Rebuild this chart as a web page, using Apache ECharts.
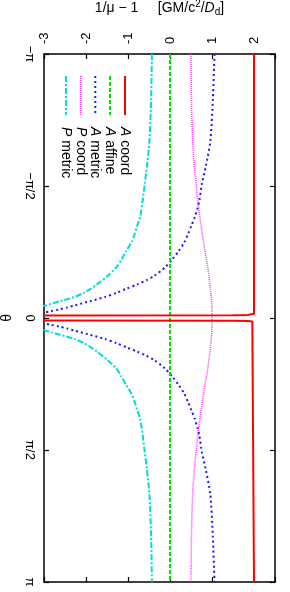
<!DOCTYPE html>
<html><head><meta charset="utf-8">
<script src="https://cdn.jsdelivr.net/npm/echarts@6/dist/echarts.min.js"></script>
<style>html,body{margin:0;padding:0;background:#fff}#c{width:290px;height:592px}</style>
</head><body><div id="c"></div>
<script>
// ---- data ----
const thetaTickLabels = ['−π', '−π/2', '0', 'π/2', 'π'];
const seriesNames = ['A coord', 'A affine', 'A metric', 'P coord', 'P metric'];

const thetaACoord = [-3.1416, -0.05, -0.042, -0.036, -0.032, -0.029, 0, 0.029, 0.032, 0.036, 0.042, 0.05, 3.1416];
const aCoord      = [2, 2, 1.96, 1.85, 1.5, -4, null, -4, 1.5, 1.85, 1.96, 2, 2];

const thetaAAffine = [-3.1416, 3.1416];
const aAffine      = [0, 0];

const thetaAMetric = [-3.1416,-2.6,-2.1,-1.8,-1.6,-1.4,-1.3,-1.2,-1.1,-1.0,-0.9,-0.8,-0.7,-0.6,-0.5,-0.45,-0.4,-0.35,-0.3,-0.25,-0.2,-0.15,-0.125,-0.1,-0.08,-0.065,-0.05,
  0,
  0.05,0.065,0.08,0.1,0.125,0.15,0.2,0.25,0.3,0.35,0.4,0.45,0.5,0.6,0.7,0.8,0.9,1.0,1.1,1.2,1.3,1.4,1.6,1.8,2.1,2.6,3.1416];
const aMetric = [1.06,1.02,0.96,0.85,0.76,0.70,0.65,0.59,0.51,0.43,0.34,0.21,0.06,-0.12,-0.38,-0.56,-0.78,-1.03,-1.27,-1.55,-1.9,-2.27,-2.45,-2.65,-2.85,-3.0,-4.0,
  null,
  -4.0,-3.0,-2.85,-2.65,-2.45,-2.27,-1.9,-1.55,-1.27,-1.03,-0.78,-0.56,-0.38,-0.12,0.06,0.21,0.34,0.43,0.51,0.59,0.65,0.70,0.76,0.85,0.96,1.02,1.06];

const thetaPCoord = [-3.1416,-2.6,-2.1,-1.8,-1.6,-1.4,-1.2,-1.0,-0.8,-0.6,-0.4,-0.2,0,0.2,0.4,0.6,0.8,1.0,1.2,1.4,1.6,1.8,2.1,2.6,3.1416];
const pCoord      = [0.50,0.51,0.54,0.58,0.62,0.66,0.71,0.77,0.83,0.90,0.95,0.99,1.0,0.99,0.95,0.90,0.83,0.77,0.71,0.66,0.62,0.58,0.54,0.51,0.50];

const thetaPMetric = [-3.1416,-2.6,-2.1,-1.8,-1.6,-1.4,-1.2,-1.1,-1.0,-0.9,-0.8,-0.7,-0.6,-0.5,-0.4,-0.35,-0.3,-0.25,-0.2,-0.17,-0.145,-0.13,
  0,
  0.13,0.145,0.17,0.2,0.25,0.3,0.35,0.4,0.5,0.6,0.7,0.8,0.9,1.0,1.1,1.2,1.4,1.6,1.8,2.1,2.6,3.1416];
const pMetric = [-0.43,-0.45,-0.49,-0.55,-0.60,-0.65,-0.71,-0.78,-0.84,-0.92,-1.04,-1.15,-1.28,-1.49,-1.74,-1.88,-2.05,-2.27,-2.62,-2.82,-3.0,-3.3,
  null,
  -3.3,-3.0,-2.82,-2.62,-2.27,-2.05,-1.88,-1.74,-1.49,-1.28,-1.15,-1.04,-0.92,-0.84,-0.78,-0.71,-0.65,-0.60,-0.55,-0.49,-0.45,-0.43];

// ---- chart ----
const FONT = '"Liberation Sans", Arial, Helvetica, sans-serif';
const pair = (vals, th) => vals.map((v, i) => [v, th[i]]);
const colors = ['#ff0000', '#00dd00', '#1a1aff', '#ff40ff', '#00dcdc'];
const dashes = ['solid', [4, 2], [2, 3], [1, 1], [6, 2, 2, 2]];
const widths = [2, 2, 2, 1.6, 2];

const chart = echarts.init(document.getElementById('c'), null, {renderer: 'canvas'});
const axisLineStyle = {color: '#000', width: 1.5};
const tickStyle = {inside: true, length: 5, lineStyle: {color: '#000', width: 1.2}};

const xCommon = {type: 'value', min: -3, max: 2.5, interval: 1, splitLine: {show: false},
  axisLine: {show: true, onZero: false, lineStyle: axisLineStyle}, axisTick: tickStyle};
const yCommon = {type: 'value', min: -Math.PI, max: Math.PI, interval: Math.PI / 2, inverse: true,
  splitLine: {show: false}, axisLine: {show: true, onZero: false, lineStyle: axisLineStyle}, axisTick: tickStyle};

const legendGraphics = [];
const legendX = [125, 110, 95.3, 80.7, 66];
seriesNames.forEach((nm, i) => {
  legendGraphics.push({type: 'line', shape: {x1: legendX[i], y1: 76, x2: legendX[i], y2: 115},
    style: {stroke: colors[i], lineWidth: widths[i], lineDash: dashes[i] === 'solid' ? null : dashes[i]}});
  const parts = nm.split(' ');
  legendGraphics.push({type: 'text', x: legendX[i], y: 127, rotation: -Math.PI / 2,
    style: {text: '{i|' + parts[0] + '} ' + parts[1], fill: '#000', font: '14px ' + FONT,
      align: 'left', verticalAlign: 'middle',
      rich: {i: {fontStyle: 'italic', fontSize: 14, fontFamily: FONT}}}});
});

chart.setOption({
  animation: false,
  backgroundColor: '#fff',
  textStyle: {fontFamily: FONT},
  grid: {left: 44, right: 15, top: 54, bottom: 10, containLabel: false, outerBoundsMode: 'none'},
  xAxis: [
    Object.assign({}, xCommon, {position: 'top',
      axisLabel: {rotate: -90, margin: 10, fontSize: 13, color: '#000', fontFamily: FONT,
        formatter: v => Math.abs(v - Math.round(v)) < 1e-6 ? String(Math.round(v)) : ''},
      name: '{t|1/μ − 1}     {t|[GM/c}{sup|2}{t|/}{it|D}{sub|d}{t|]}',
      nameLocation: 'middle', nameGap: 36,
      nameTextStyle: {color: '#000', fontSize: 14, fontFamily: FONT,
        rich: {t: {fontSize: 14, fontFamily: FONT, color: '#000'},
               it: {fontSize: 14, fontStyle: 'italic', fontFamily: FONT, color: '#000'},
               sup: {fontSize: 10, fontFamily: FONT, color: '#000', padding: [0, 0, 9, 0]},
               sub: {fontSize: 10, fontFamily: FONT, color: '#000', padding: [8, 0, 0, 0]}}}}),
    Object.assign({}, xCommon, {position: 'bottom', axisLabel: {show: false}})
  ],
  yAxis: [
    Object.assign({}, yCommon, {position: 'left',
      axisLabel: {rotate: -90, margin: 8, fontSize: 13, color: '#000', fontFamily: FONT,
        formatter: v => thetaTickLabels[Math.round(v / (Math.PI / 2)) + 2] || ''},
      name: 'θ', nameLocation: 'middle', nameRotate: -90, nameGap: 33,
      nameTextStyle: {color: '#000', fontSize: 14, fontFamily: FONT}}),
    Object.assign({}, yCommon, {position: 'right', axisLabel: {show: false}})
  ],
  graphic: legendGraphics,
  series: [
    {name: seriesNames[0], data: pair(aCoord, thetaACoord)},
    {name: seriesNames[1], data: pair(aAffine, thetaAAffine)},
    {name: seriesNames[2], data: pair(aMetric, thetaAMetric), smooth: 0.25},
    {name: seriesNames[3], data: pair(pCoord, thetaPCoord), smooth: 0.3},
    {name: seriesNames[4], data: pair(pMetric, thetaPMetric), smooth: 0.25}
  ].map((s, i) => Object.assign({type: 'line', xAxisIndex: 0, yAxisIndex: 0, showSymbol: false,
      symbol: 'none', clip: true, connectNulls: false,
      lineStyle: {color: colors[i], width: widths[i], type: dashes[i]}, z: 10 - i}, s))
});
</script></body></html>
